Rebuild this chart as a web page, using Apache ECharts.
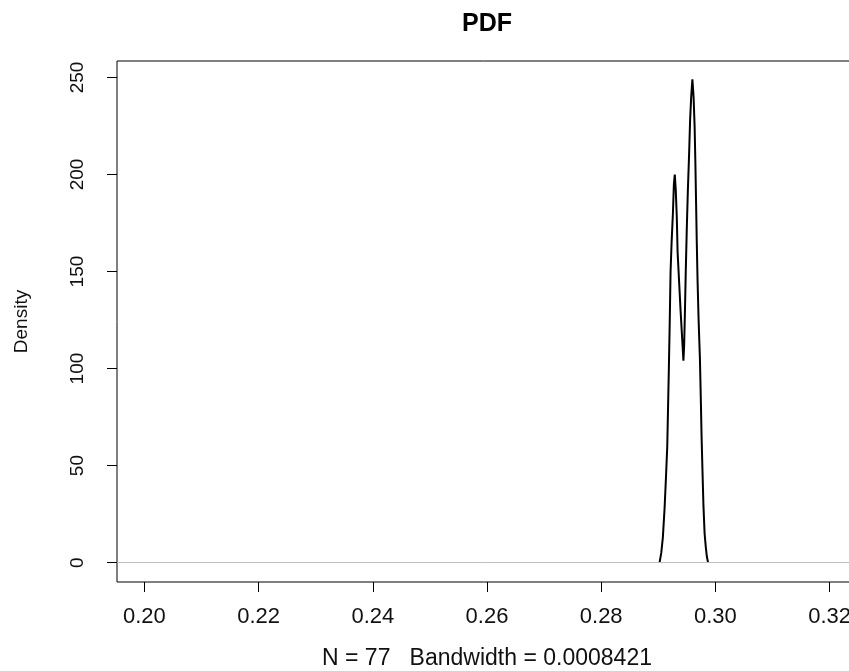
<!DOCTYPE html>
<html>
<head>
<meta charset="utf-8">
<script src="https://cdn.jsdelivr.net/npm/echarts@6/dist/echarts.min.js"></script>
<style>
html,body{margin:0;padding:0;background:#fff;overflow:hidden;}
#chart{width:849px;height:671px;}
</style>
</head>
<body>
<div id="chart"></div>
<script>
// Kernel density estimate
const xValues = [0.29022,0.29052,0.29080,0.29110,0.29136,0.29157,0.29171,0.29185,0.29201,0.29215,
  0.29233,0.29256,0.29273,0.29289,0.29306,0.29324,0.29338,0.29364,0.29390,0.29417,
  0.29440,0.29453,0.29467,0.29481,0.29499,0.29518,0.29539,0.29557,0.29576,0.29597,
  0.29618,0.29636,0.29650,0.29662,0.29674,0.29688,0.29706,0.29729,0.29744,0.29758,
  0.29776,0.29790,0.29811,0.29832,0.29851,0.29872];
const densityValues = [0,5,13,28,45,60,80,100,125,150,
  165,180,195,200,192,178,160,145,130,116,
  104,112,130,150,172,192,210,228,240,249,
  240,225,205,185,165,145,125,105,85,65,
  45,30,15,8,3,0];
const xTicks = [0.20,0.22,0.24,0.26,0.28,0.30,0.32];
const yTicks = [0,50,100,150,200,250];
const titleText = 'PDF';
const xTitle = 'N = 77   Bandwidth = 0.0008421';
const yTitle = 'Density';

const chart = echarts.init(document.getElementById('chart'), null, {renderer:'canvas'});
const FONT = '"Liberation Sans", Arial, sans-serif';
const points = xValues.map((x,i)=>[x, densityValues[i]]);

chart.setOption({
  animation:false,
  backgroundColor:'#fff',
  title:{
    text:titleText,
    left:482, top:7, textAlign:'center',
    textStyle:{fontFamily:FONT,fontWeight:'bold',fontSize:25,color:'#000'}
  },
  grid:{left:117, top:61, width:740, bottom:89, show:true, borderColor:'#000', borderWidth:1,
    containLabel:false, outerBoundsMode:'none'},
  xAxis:{
    type:'value', min:0.1952, max:0.3248,
    name:xTitle, nameLocation:'middle', nameGap:65,
    nameTextStyle:{fontFamily:FONT,fontSize:23,color:'#111'},
    axisLine:{show:false, onZero:false},
    axisTick:{show:true, length:10, inside:false, customValues:xTicks, lineStyle:{color:'#000',width:1}},
    axisLabel:{customValues:xTicks, margin:24, fontFamily:FONT, fontSize:22, color:'#111',
      formatter:v=>v.toFixed(2)},
    splitLine:{show:false}
  },
  yAxis:{
    type:'value', min:-10, max:258.5,
    name:yTitle, nameLocation:'middle', nameGap:86,
    nameTextStyle:{fontFamily:FONT,fontSize:19,color:'#111'},
    axisLine:{show:false, onZero:false},
    axisTick:{show:true, length:10, inside:false, customValues:yTicks, lineStyle:{color:'#000',width:1}},
    axisLabel:{customValues:yTicks, margin:30, rotate:90, fontFamily:FONT, fontSize:19, color:'#111'},
    splitLine:{show:false}
  },
  series:[{
    type:'line', data:points, showSymbol:false, smooth:false,
    lineStyle:{color:'#000', width:2},
    markLine:{silent:true, symbol:'none', label:{show:false},
      lineStyle:{color:'#bdbdbd', width:1, type:'solid'},
      data:[{yAxis:0}]}
  }]
});
</script>
</body>
</html>
